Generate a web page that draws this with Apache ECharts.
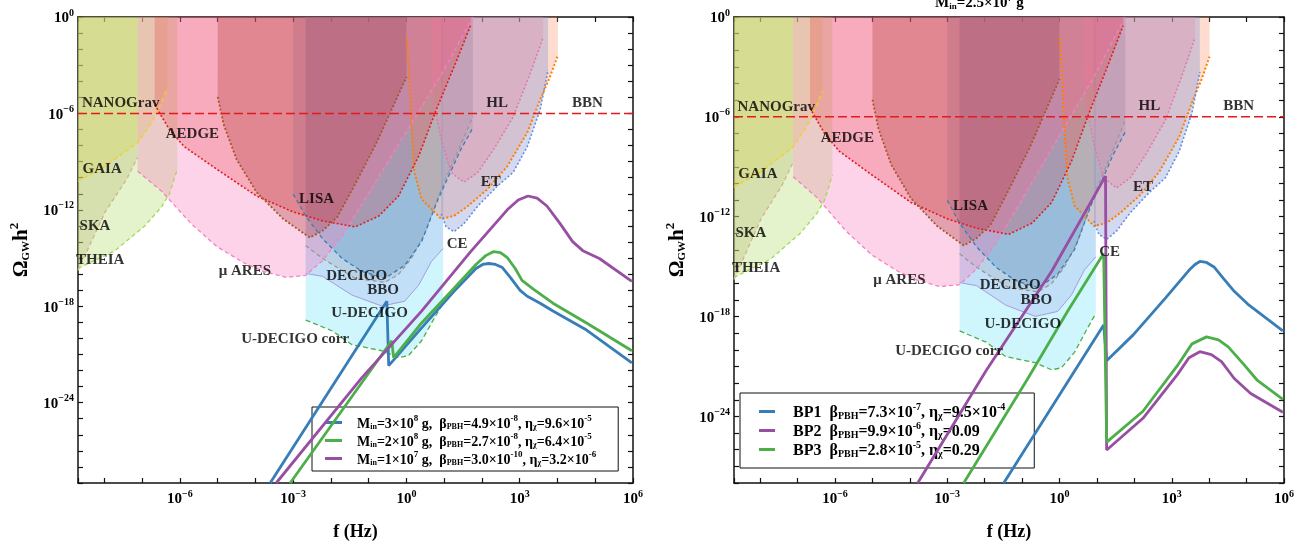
<!DOCTYPE html>
<html>
<head>
<meta charset="utf-8">
<script src="https://cdn.jsdelivr.net/npm/echarts/dist/echarts.min.js"></script>
<style>
  body { margin: 0; background: #fff; }
  .panel { position: absolute; top: 0; width: 656px; height: 546px; }
  #left { left: 0; }
  #right { left: 656px; }
</style>
</head>
<body>
<div id="left" class="panel"></div>
<div id="right" class="panel"></div>
<script>
// every value below is log10(f / Hz) , log10(Omega_GW h^2)

var xMin = -8.7, xMax = 6;

// detector sensitivity curves (the region above each curve is shaded)
var corrUDecigo = [[-2.67,-18.86],[-1.96,-19.54],[-1.44,-20.4],[-0.65,-20.77],[-0.21,-21.2],[0.05,-21.08],[0.40,-20.15],[0.74,-18.73],[0.97,-17.81]];
var uDecigo = [[-2.67,-15.96],[-2.22,-16.14],[-1.44,-17.31],[-0.65,-17.99],[-0.05,-17.69],[0.32,-16.70],[0.66,-15.22],[0.97,-14.41]];
var bbo = [[-2.67,-14.23],[-2.22,-15.03],[-1.36,-16.27],[-0.57,-16.51],[-0.21,-16.02],[0.13,-15.03],[0.48,-13.49],[0.92,-10.71],[1.44,-7.93],[1.76,-6.2]];
var decigo = [[-3.0,-11.02],[-2.67,-12.38],[-2.22,-13.8],[-1.70,-15.03],[-1.18,-15.83],[-0.57,-16.27],[-0.05,-15.46],[0.40,-13.98],[0.84,-11.33],[1.44,-8.24],[1.76,-6.9]];
var et = [[0.0,-1.27],[0.08,-4.1],[0.13,-6.82],[0.21,-9.66],[0.40,-11.33],[0.66,-11.94],[0.92,-12.56],[1.26,-12.38],[1.63,-11.76],[2.15,-10.71],[2.67,-9.29],[3.20,-7.19],[3.54,-5.15],[3.80,-3.73],[4.01,-2.38]];
var ce = [[0.92,-12.25],[1.05,-13.06],[1.26,-13.36],[1.52,-12.87],[1.89,-11.76],[2.41,-10.52],[2.83,-9.66],[3.20,-8.06],[3.54,-5.77],[3.75,-3.3]];
var hl = [[0.66,-3.12],[0.74,-5.59],[0.92,-7.62],[1.18,-9.66],[1.52,-10.28],[1.89,-9.66],[2.31,-8.24],[2.83,-6.2],[3.28,-3.49],[3.62,-1.27]];
var theia = [[-8.7,-15.65],[-7.72,-14.54],[-6.93,-13.0],[-6.49,-11.82],[-6.28,-11.02],[-6.07,-9.48]];
var gaia = [[-8.7,-15.77],[-7.98,-12.13],[-7.41,-10.09],[-7.12,-8.73]];
var nanograv = [[-8.7,-10.22],[-7.98,-9.29],[-7.12,-7.81],[-6.75,-6.57],[-6.54,-5.59],[-6.33,-4.41]];
var muAres = [[-7.12,-9.6],[-6.49,-10.83],[-5.70,-12.87],[-5.02,-14.29],[-4.32,-15.28],[-3.79,-15.83],[-3.19,-16.2],[-2.67,-16.08],[-2.22,-15.15],[-1.70,-13.61],[-1.10,-11.33],[-0.13,-7.62],[0.92,-3.6],[1.76,0]];
var aedge = [[-6.67,-5.46],[-6.28,-7.0],[-5.89,-8.06],[-5.02,-9.48],[-3.97,-11.14],[-3.0,-12.13],[-2.22,-12.69],[-1.36,-13.06],[-0.73,-12.38],[-0.21,-11.14],[0.32,-8.67],[0.79,-5.77],[1.31,-2.81],[1.70,-0.52]];
var lisa = [[-5.0,-4.97],[-4.84,-6.7],[-4.50,-8.86],[-3.97,-10.9],[-3.27,-12.56],[-2.56,-13.73],[-2.22,-13.3],[-1.83,-12.44],[-1.36,-10.4],[-0.79,-7.81],[0.0,-3.73]];
var bbn = [[xMin,-6],[xMax,-6]];

// detector names placed on the plot
var detLabels = [
  [-7.57,-5.39,'NANOGrav'],[-5.67,-7.3,'AEDGE'],[-8.06,-9.45,'GAIA'],[2.4,-5.33,'HL'],
  [4.79,-5.33,'BBN'],[2.23,-10.25,'ET'],[-2.38,-11.35,'LISA'],[-8.25,-13.0,'SKA'],
  [1.34,-14.15,'CE'],[-8.11,-15.1,'THEIA'],[-4.28,-15.8,'\u03bc ARES'],[-1.32,-16.1,'DECIGO'],
  [-0.62,-17.0,'BBO'],[-0.98,-18.45,'U-DECIGO'],[-2.95,-20.07,'U-DECIGO corr']
];

// left panel spectra
var m1 = [[-3.61,-29],[-0.52,-17.69],[-0.47,-21.7],[0.40,-19.35],[1.26,-17.07],[1.84,-15.65],[2.02,-15.40],[2.18,-15.34],[2.36,-15.40],[2.54,-15.59],[2.75,-16.2],[3.01,-17.01],[3.20,-17.38],[3.54,-17.81],[3.88,-18.30],[4.77,-19.48],[5.97,-21.52]];
var m2 = [[-3.08,-29],[-0.39,-20.15],[-0.34,-21.2],[0.40,-19.04],[1.26,-16.88],[1.84,-15.40],[2.10,-14.85],[2.31,-14.60],[2.49,-14.66],[2.67,-14.97],[2.88,-15.65],[3.06,-16.39],[3.36,-16.94],[3.88,-17.81],[4.77,-19.04],[5.97,-20.77]];
var m3 = [[-3.45,-29],[-1.18,-22.44],[0.40,-18.30],[1.70,-14.60],[2.67,-12.0],[2.96,-11.39],[3.22,-11.14],[3.46,-11.27],[3.72,-11.76],[4.06,-12.83],[4.40,-13.98],[4.67,-14.54],[5.11,-15.03],[5.97,-16.45]];

// right panel spectra
var bp1 = [[-1.49,-28],[1.18,-18.5],[1.26,-20.65],[1.97,-19.1],[2.83,-16.89],[3.46,-15.22],[3.62,-14.87],[3.75,-14.69],[3.93,-14.75],[4.14,-15.04],[4.38,-15.70],[4.67,-16.48],[5.03,-17.25],[5.97,-18.86]];
var bp2 = [[-3.79,-28],[-1.96,-21.24],[-0.21,-15.28],[1.23,-9.56],[1.26,-26.02],[2.23,-24.11],[3.15,-21.49],[3.46,-20.47],[3.75,-20.11],[4.06,-20.29],[4.33,-20.71],[4.67,-21.72],[5.11,-22.62],[5.97,-23.75]];
var bp3 = [[-2.56,-28],[-0.83,-21.66],[0.22,-17.67],[1.18,-14.21],[1.26,-25.54],[2.23,-23.69],[3.15,-20.95],[3.54,-19.64],[3.93,-19.22],[4.25,-19.40],[4.51,-19.82],[4.93,-20.89],[5.29,-21.84],[5.97,-22.98]];

var SERIF = '"Liberation Serif", "Times New Roman", serif';
var BLUE = '#377eb8', GREEN = '#4daf4a', PURPLE = '#984ea3';

// shaded detector regions, drawn in this order
var regions = [
  {data: corrUDecigo, line: '#4daf4a', fill: 'rgba(128,232,248,0.38)', dash: [5,3]},
  {data: uDecigo, line: '#a898e0', fill: 'rgba(150,150,230,0.25)', dash: 'solid', w: 1},
  {data: bbo, line: '#999999', fill: 'rgba(150,150,150,0.2)', dash: [4,3]},
  {data: decigo, line: '#377eb8', fill: 'rgba(55,126,184,0.25)', dash: [4,3]},
  {data: et, line: '#ff7f00', fill: 'rgba(252,141,98,0.3)', dash: [2,2], w: 2},
  {data: ce, line: '#6a8fd8', fill: 'rgba(120,140,210,0.33)', dash: [2,2], w: 1.6},
  {data: hl, line: '#e07aa8', fill: 'rgba(231,138,170,0.3)', dash: [2,2], w: 1.6},
  {data: theia, line: '#a6d854', fill: 'rgba(179,222,105,0.35)', dash: [4,3]},
  {data: gaia, line: '#d2b48c', fill: 'rgba(190,185,120,0.35)', dash: [4,3]},
  {data: nanograv, line: '#f0d020', fill: 'rgba(215,210,90,0.32)', dash: [4,3]},
  {data: muAres, line: '#f781bf', fill: 'rgba(247,129,191,0.35)', dash: [4,3]},
  {data: aedge, line: '#e41a1c', fill: 'rgba(228,26,28,0.22)', dash: [2,2], w: 1.6},
  {data: lisa, line: '#a65628', fill: 'rgba(180,70,70,0.35)', dash: [2,2], w: 1.8}
];

var tickRich = {
  b: {fontFamily: SERIF, fontWeight: 'bold', fontSize: 15, color: '#000', lineHeight: 18, verticalAlign: 'bottom'},
  s: {fontFamily: SERIF, fontWeight: 'bold', fontSize: 10, color: '#000', lineHeight: 10, verticalAlign: 'top'}
};

function tickLabel(step) {
  return function (v) {
    var e = Math.round(v);
    if (Math.abs(v - e) > 1e-6 || e % step !== 0) return '';
    return '{b|10}{s|' + (e < 0 ? '\u2212' + (-e) : e) + '}';
  };
}

function makeRich(size) {
  return {
    t: {fontFamily: SERIF, fontWeight: 'bold', fontSize: size, color: '#000', lineHeight: size + 3, verticalAlign: 'bottom'},
    sub: {fontFamily: SERIF, fontWeight: 'bold', fontSize: Math.round(size * 0.6), color: '#000', lineHeight: Math.round(size * 0.6), verticalAlign: 'bottom'},
    sup: {fontFamily: SERIF, fontWeight: 'bold', fontSize: Math.round(size * 0.65), color: '#000', lineHeight: Math.round(size * 0.65), verticalAlign: 'top'}
  };
}

function frame(min, max, step, isX) {
  var line = {onZero: false, lineStyle: {color: '#111', width: 1.5}};
  var tick = {inside: true, length: 5, lineStyle: {color: '#111', width: 1.2}};
  var main = {
    type: 'value', min: min, max: max, minInterval: 1, maxInterval: 1, splitNumber: Math.round(max - min),
    position: isX ? 'bottom' : 'left',
    axisLine: line, axisTick: tick, splitLine: {show: false},
    axisLabel: {formatter: tickLabel(step), rich: tickRich, margin: isX ? 6 : 4}
  };
  var mirror = {
    type: 'value', min: min, max: max, minInterval: 1, maxInterval: 1, splitNumber: Math.round(max - min),
    position: isX ? 'top' : 'right',
    axisLine: line, axisTick: tick, splitLine: {show: false}, axisLabel: {show: false}
  };
  return [main, mirror];
}

function buildPanel(el, p) {
  var chart = echarts.init(document.getElementById(el));
  var series = [];

  regions.forEach(function (r) {
    series.push({
      type: 'line', data: r.data, symbol: 'none', silent: true, z: 1,
      lineStyle: {color: r.line, width: r.w || 1.3, type: r.dash},
      areaStyle: {color: r.fill, origin: 'end', opacity: 1}
    });
  });

  series.push({
    type: 'line', data: bbn, symbol: 'none', silent: true, z: 3,
    lineStyle: {color: '#e41a1c', width: 1.5, type: [9, 4]}
  });

  p.curves.forEach(function (c) {
    series.push({
      type: 'line', name: c.name, data: c.data, symbol: 'none', z: 5,
      itemStyle: {color: c.color},
      lineStyle: {color: c.color, width: 2.8}
    });
  });

  series.push({
    type: 'scatter', silent: true, z: 6, symbolSize: 1,
    itemStyle: {color: 'rgba(0,0,0,0)'},
    data: detLabels.map(function (l) { return {value: [l[0], l[1]], name: l[2]}; }),
    label: {show: true, position: 'inside', formatter: '{b}', color: '#000',
            fontFamily: SERIF, fontWeight: 'bold', fontSize: 15}
  });

  var xs = frame(xMin, xMax, 3, true);
  xs[0].name = 'f (Hz)';
  xs[0].nameLocation = 'middle';
  xs[0].nameGap = 40;
  xs[0].nameTextStyle = {fontFamily: SERIF, fontWeight: 'bold', fontSize: 18, color: '#000'};

  var ys = frame(p.yMin, 0, 6, false);
  ys[0].name = '{o|\u03a9}{sub|GW}{o|h}{sup|2}';
  ys[0].nameLocation = 'middle';
  ys[0].nameGap = 46;
  ys[0].nameTextStyle = {rich: {
    o: {fontFamily: SERIF, fontWeight: 'bold', fontSize: 21, color: '#000', lineHeight: 24, verticalAlign: 'bottom'},
    sub: {fontFamily: SERIF, fontWeight: 'bold', fontSize: 11, color: '#000', lineHeight: 11, verticalAlign: 'bottom'},
    sup: {fontFamily: SERIF, fontWeight: 'bold', fontSize: 13, color: '#000', lineHeight: 13, verticalAlign: 'top'}
  }};

  var option = {
    animation: false,
    grid: p.grid,
    xAxis: xs,
    yAxis: ys,
    legend: {
      data: p.curves.map(function (c) { return c.name; }),
      orient: 'vertical', left: p.legend.left, top: p.legend.top,
      icon: 'rect', itemWidth: p.legend.iw, itemHeight: 3, itemGap: p.legend.gap,
      backgroundColor: '#fff', borderColor: '#111', borderWidth: 1, borderRadius: 0,
      padding: p.legend.pad,
      formatter: function (n) { return p.legend.text[n]; },
      textStyle: {rich: makeRich(p.legend.size), padding: [0, 0, 0, p.legend.tpad]}
    },
    series: series
  };
  if (p.title) option.title = p.title;
  chart.setOption(option);
}

buildPanel('left', {
  yMin: -29,
  grid: {left: 72, top: 17, width: 561, height: 469},
  curves: [
    {name: 'M1', data: m1, color: BLUE},
    {name: 'M2', data: m2, color: GREEN},
    {name: 'M3', data: m3, color: PURPLE}
  ],
  legend: {
    left: 312, top: 407, iw: 17, gap: 1, pad: [7, 22, 4, 13], size: 14, tpad: 10,
    text: {
      M1: '{t|M}{sub|in}{t|=3\u00d710}{sup|8}{t| g,  \u03b2}{sub|PBH}{t|=4.9\u00d710}{sup|-8}{t|, \u03b7}{sub|\u03c7}{t|=9.6\u00d710}{sup|-5}',
      M2: '{t|M}{sub|in}{t|=2\u00d710}{sup|8}{t| g,  \u03b2}{sub|PBH}{t|=2.7\u00d710}{sup|-8}{t|, \u03b7}{sub|\u03c7}{t|=6.4\u00d710}{sup|-5}',
      M3: '{t|M}{sub|in}{t|=1\u00d710}{sup|7}{t| g,  \u03b2}{sub|PBH}{t|=3.0\u00d710}{sup|-10}{t|, \u03b7}{sub|\u03c7}{t|=3.2\u00d710}{sup|-6}'
    }
  }
});

buildPanel('right', {
  yMin: -28,
  grid: {left: 66, top: 17, width: 562, height: 469},
  curves: [
    {name: 'BP1', data: bp1, color: BLUE},
    {name: 'BP2', data: bp2, color: PURPLE},
    {name: 'BP3', data: bp3, color: GREEN}
  ],
  legend: {
    left: 84, top: 393, iw: 16, gap: 0, pad: [9, 29, 9, 19], size: 16, tpad: 13,
    text: {
      BP1: '{t|BP1  \u03b2}{sub|PBH}{t|=7.3\u00d710}{sup|-7}{t|, \u03b7}{sub|\u03c7}{t|=9.5\u00d710}{sup|-4}',
      BP2: '{t|BP2  \u03b2}{sub|PBH}{t|=9.9\u00d710}{sup|-6}{t|, \u03b7}{sub|\u03c7}{t|=0.09}',
      BP3: '{t|BP3  \u03b2}{sub|PBH}{t|=2.8\u00d710}{sup|-5}{t|, \u03b7}{sub|\u03c7}{t|=0.29}'
    }
  },
  title: {
    text: '{t|M}{sub|in}{t|=2.5\u00d710}{sup|7}{t| g}',
    left: 279, top: -7, padding: 0,
    textStyle: {rich: makeRich(15)}
  }
});
</script>
</body>
</html>
